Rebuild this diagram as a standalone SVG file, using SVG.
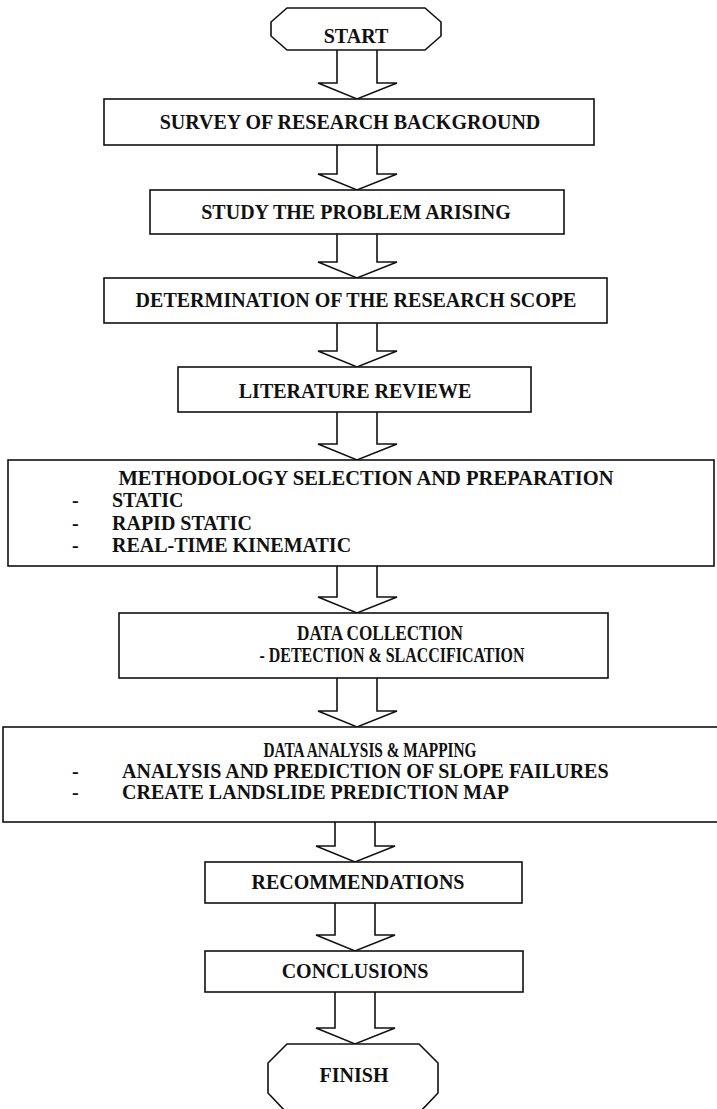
<svg xmlns="http://www.w3.org/2000/svg" width="717" height="1109" viewBox="0 0 717 1109">
<style>
.box{fill:#fff;stroke:#111;stroke-width:1.6}
.arr{fill:#fff;stroke:#111;stroke-width:1.6;stroke-linejoin:miter}
.t{font-family:"Liberation Serif","Times New Roman",serif;font-weight:bold;font-size:20px;fill:#111}
.c{text-anchor:middle}
</style>
<rect x="0" y="0" width="717" height="1109" fill="#fff"/>
<g id="connectors">
<path class="arr" d="M337 50 V83 H318 L357 99 L397 83 H377 V50"/>
<path class="arr" d="M337 145 V174 H318 L357 190 L397 174 H377 V145"/>
<path class="arr" d="M337 234 V262 H318 L357 278 L397 262 H377 V234"/>
<path class="arr" d="M337 323 V351 H318 L357 367 L397 351 H377 V323"/>
<path class="arr" d="M337 412 V444 H318 L357 460 L397 444 H377 V412"/>
<path class="arr" d="M337 566 V597 H318 L357 613 L397 597 H377 V566"/>
<path class="arr" d="M337 678 V711 H318 L357 727 L397 711 H377 V678"/>
<path class="arr" d="M335 822 V846 H316 L355 862 L395 846 H375 V822"/>
<path class="arr" d="M335 903 V935 H316 L355 951 L395 935 H375 V903"/>
<path class="arr" d="M335 992 V1028 H316 L355 1044 L395 1028 H375 V992"/>
</g>
<g id="start">
<polygon class="box" points="287,8 425,8 441,22 441,36 425,50 287,50 271,36 271,22"/>
<text class="t c" x="356" y="43">START</text>
</g>
<g id="survey">
<rect class="box" x="104" y="99" width="490" height="46"/>
<text class="t c" x="350" y="129">SURVEY OF RESEARCH BACKGROUND</text>
</g>
<g id="study">
<rect class="box" x="150" y="190" width="414" height="44"/>
<text class="t c" x="356" y="219">STUDY THE PROBLEM ARISING</text>
</g>
<g id="scope">
<rect class="box" x="104" y="278" width="503" height="45"/>
<text class="t c" x="356" y="307">DETERMINATION OF THE RESEARCH SCOPE</text>
</g>
<g id="literature">
<rect class="box" x="178" y="367" width="353" height="45"/>
<text class="t c" x="355" y="398">LITERATURE REVIEWE</text>
</g>
<g id="methodology">
<rect class="box" x="8" y="460" width="706" height="106"/>
<text class="t c" x="366" y="485" textLength="495" lengthAdjust="spacingAndGlyphs">METHODOLOGY SELECTION AND PREPARATION</text>
<text class="t" x="72" y="507">-</text>
<text class="t" x="112" y="507">STATIC</text>
<text class="t" x="72" y="530">-</text>
<text class="t" x="112" y="530">RAPID STATIC</text>
<text class="t" x="72" y="552">-</text>
<text class="t" x="112" y="552">REAL-TIME KINEMATIC</text>
</g>
<g id="collection">
<rect class="box" x="119" y="613" width="489" height="65"/>
<text class="t c" x="380" y="640" textLength="166" lengthAdjust="spacingAndGlyphs">DATA COLLECTION</text>
<text class="t c" x="392" y="662" textLength="265" lengthAdjust="spacingAndGlyphs">- DETECTION &amp; SLACCIFICATION</text>
</g>
<g id="analysis">
<rect class="box" x="3" y="727" width="730" height="95"/>
<text class="t c" x="370" y="757" textLength="213" lengthAdjust="spacingAndGlyphs">DATA ANALYSIS &amp; MAPPING</text>
<text class="t" x="72" y="778">-</text>
<text class="t" x="122" y="778">ANALYSIS AND PREDICTION OF SLOPE FAILURES</text>
<text class="t" x="72" y="799">-</text>
<text class="t" x="122" y="799">CREATE LANDSLIDE PREDICTION MAP</text>
</g>
<g id="recommendations">
<rect class="box" x="205" y="862" width="317" height="41"/>
<text class="t c" x="358" y="889">RECOMMENDATIONS</text>
</g>
<g id="conclusions">
<rect class="box" x="205" y="951" width="318" height="41"/>
<text class="t c" x="355" y="978">CONCLUSIONS</text>
</g>
<g id="finish">
<polygon class="box" points="287,1044 419,1044 438,1063 438,1093 419,1113 287,1113 268,1093 268,1063"/>
<text class="t c" x="354" y="1082">FINISH</text>
</g>
</svg>
